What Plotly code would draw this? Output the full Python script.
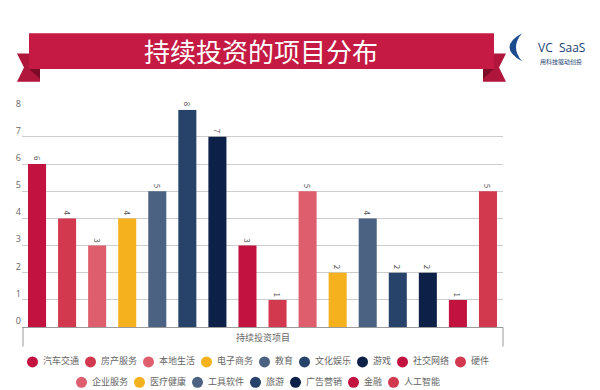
import plotly.graph_objects as go

# ---- data ----
categories = ["汽车交通", "房产服务", "本地生活", "电子商务", "教育", "文化娱乐", "游戏", "社交网络",
              "硬件", "企业服务", "医疗健康", "工具软件", "旅游", "广告营销", "金融", "人工智能"]
values = [6, 4, 3, 4, 5, 8, 7, 3, 1, 5, 2, 4, 2, 2, 1, 5]
palette = ["#C2123F", "#D2394F", "#DE5E6E", "#F5B11E", "#4C6282", "#27436A", "#0D2148"]
colors = [palette[i % len(palette)] for i in range(len(categories))]
legend_rows = [categories[:9], categories[9:]]
title_text = "持续投资的项目分布"
axis_title = "持续投资项目"
y_ticks = list(range(0, 9))

W, H = 600, 390
FONT = "Noto Sans CJK SC"


def px(x):
    return x / W


def py(y):
    return 1 - y / H


fig = go.Figure()

for cat, val, col in zip(categories, values, colors):
    fig.add_trace(go.Bar(
        x=[cat], y=[val], name=cat, marker=dict(color=col, line=dict(width=0)),
        text=[str(val)], textposition="outside", textangle=90,
        textfont=dict(size=8, color="#555555", family=FONT),
        cliponaxis=False, showlegend=False, xaxis="x", yaxis="y",
    ))

# ---- custom legend (circle + label), positions laid out from label lengths ----
CHAR = 9
for r, row in enumerate(legend_rows):
    widths = [22 + CHAR * len(n) for n in row]
    total = sum(widths) - 6
    x = 258 - total / 2 + 5.5
    yrow = 361 + r * 21
    mx, tx, ys, cols = [], [], [], []
    for n, w in zip(row, widths):
        mx.append(x)
        tx.append(x + 10.5)
        ys.append(yrow)
        cols.append(colors[categories.index(n)])
        x += w
    fig.add_trace(go.Scatter(x=mx, y=ys, mode="markers",
                             marker=dict(size=11, color=cols, line=dict(width=0)),
                             xaxis="x2", yaxis="y2", showlegend=False, hoverinfo="skip",
                             cliponaxis=False))
    fig.add_trace(go.Scatter(x=tx, y=ys, mode="text", text=row, textposition="middle right",
                             textfont=dict(size=9, color="#666666", family=FONT),
                             xaxis="x2", yaxis="y2", showlegend=False, hoverinfo="skip",
                             cliponaxis=False))

# ---- banner shapes ----
def poly(points, color):
    d = "M " + " L ".join(f"{px(a):.5f},{py(b):.5f}" for a, b in points) + " Z"
    return dict(type="path", xref="paper", yref="paper", path=d,
                fillcolor=color, line=dict(width=0), layer="above")


shapes = [
    poly([(17, 42), (40, 42), (40, 71), (17, 71), (24, 56.5)], "#B0153C"),
    poly([(29, 58), (40, 58), (40, 68)], "#7A0C27"),
    poly([(483, 42), (506, 42), (499, 56.5), (506, 71), (483, 71)], "#B0153C"),
    poly([(494, 58), (483, 58), (483, 68)], "#7A0C27"),
    poly([(29, 21), (494, 21), (494, 58), (29, 58)], "#C41A43"),
]
# logo crescent
crescent = (f"M {px(522):.5f},{py(21):.5f} Q {px(497):.5f},{py(35.5):.5f} {px(522):.5f},{py(50):.5f} "
            f"Q {px(510):.5f},{py(35.5):.5f} {px(522):.5f},{py(21):.5f} Z")
shapes.append(dict(type="path", xref="paper", yref="paper", path=crescent,
                   fillcolor="#1C4B8E", line=dict(width=0)))
# category-axis group box lines
for xv in (23, 503):
    shapes.append(dict(type="line", xref="paper", yref="paper",
                       x0=px(xv), x1=px(xv), y0=py(325), y1=py(345),
                       line=dict(color="#9a9a9a", width=1)))

annotations = [
    dict(text=title_text, x=px(261), y=py(39), xref="paper", yref="paper", showarrow=False,
         xanchor="center", yanchor="middle", font=dict(size=26, color="white", family=FONT)),
    dict(text="VC  SaaS", x=px(561), y=py(36), xref="paper", yref="paper", showarrow=False,
         xanchor="center", yanchor="middle", font=dict(size=12, color="#1E3F73", family="Open Sans")),
    dict(text="用科技驱动创投", x=px(561), y=py(50), xref="paper", yref="paper", showarrow=False,
         xanchor="center", yanchor="middle", font=dict(size=6, color="#1E3F73", family=FONT)),
    dict(text=axis_title, x=px(263), y=py(336), xref="paper", yref="paper", showarrow=False,
         xanchor="center", yanchor="middle", font=dict(size=9, color="#666666", family=FONT)),
]

fig.update_layout(
    width=W, height=H, margin=dict(l=0, r=0, t=0, b=0),
    paper_bgcolor="white", plot_bgcolor="rgba(0,0,0,0)",
    barmode="relative", bargap=0.4, showlegend=False,
    font=dict(family=FONT),
    xaxis=dict(domain=[px(22), px(503)], categoryorder="array", categoryarray=categories,
               showticklabels=False, ticks="", showgrid=False, zeroline=False,
               showline=True, linecolor="#9a9a9a", linewidth=1, fixedrange=True),
    yaxis=dict(domain=[py(325), py(100)], range=[0, 8], tickvals=y_ticks, showgrid=True,
               gridcolor="#cdcdcd", gridwidth=1, zeroline=False, showline=False, ticks="",
               ticklabelposition="outside top", tickfont=dict(size=9, color="#666666", family="Open Sans"),
               fixedrange=True),
    xaxis2=dict(domain=[0, 1], range=[0, W], visible=False, anchor="y2", fixedrange=True),
    yaxis2=dict(domain=[0, 1], range=[H, 0], visible=False, anchor="x2", fixedrange=True),
    shapes=shapes, annotations=annotations,
)

fig.write_html("out.html", config={"displayModeBar": False},
               post_script="document.body.style.margin='0';document.body.style.overflow='hidden';")
